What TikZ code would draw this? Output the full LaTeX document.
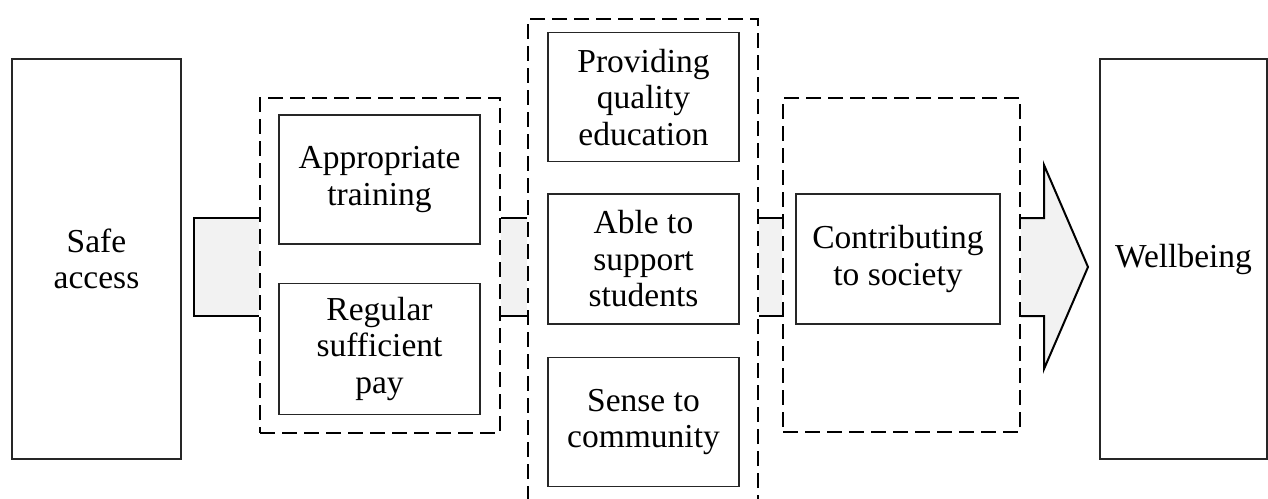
\documentclass[tikz,border=0pt]{standalone}
\usepackage{fontspec}
\setmainfont{Liberation Serif}
\usepackage{tikz}
\usetikzlibrary{positioning}
\usetikzlibrary{backgrounds}
\newcommand{\boxfont}{\fontsize{33.5}{36.5}\selectfont}
\tikzset{
  mybox/.style={
    draw=black!85,
    shape=rectangle,
    line width=1.3pt,
    align=center,
    inner sep=0pt,
    font=\boxfont
  },
  mygroup/.style={
    draw=black,
    shape=rectangle,
    line width=2pt,
    dash pattern=on 15pt off 7pt,
    inner sep=0pt,
  },
  myshaft/.style={
    fill=gray!10,
  },
  myedge/.style={
    draw=black,
    line width=2pt,
  },
}

\begin{document}
\begin{tikzpicture}[x=1pt, y=-1pt]
    \useasboundingbox (0,0) rectangle (1268,498);
    \coordinate (shafttop) at (0,218);
    \coordinate (shaftbot) at (0,316);
    \coordinate (headtop)  at (1044,165);
    \coordinate (headbot)  at (1044,369);
    \coordinate (tip)      at (1088,267);

    \node[mybox, minimum width=169pt, minimum height=400pt] (safe)      at (96.5,259)   {Safe\\access};
    \node[mybox, minimum width=167pt, minimum height=400pt] (wellbeing) at (1183.5,259) {Wellbeing};

    \node[mybox, minimum width=201pt, minimum height=129pt] (training)                     at (379.5,179.5) {Appropriate\\training};
    \node[mybox, minimum width=201pt, minimum height=131pt] (pay)   [below=38pt of training]               {Regular\\sufficient\\pay};

    \node[mybox, minimum width=191pt, minimum height=130pt] (support)                      at (643.5,259)   {Able to\\support\\students};
    \node[mybox, minimum width=191pt, minimum height=129pt] (quality)   [above=31pt of support]            {Providing\\quality\\education};
    \node[mybox, minimum width=191pt, minimum height=129pt] (community) [below=32pt of support]            {Sense to\\community};

    \node[mybox, minimum width=204pt, minimum height=130pt] (society)                      at (898,259)     {Contributing\\to society};

    \node[mygroup, minimum width=240pt, minimum height=335pt] (group1) at (380,265.5) {};
    \node[mygroup, minimum width=230pt, minimum height=481pt] (group2) at (643,259.5) {};
    \node[mygroup, minimum width=237pt, minimum height=334pt] (group3) at (901.5,265) {};

    \coordinate[right=12pt of safe.east] (start1);

    \begin{scope}[on background layer]
      \fill[myshaft] (start1 |- shafttop) rectangle (group1.west |- shaftbot);
      \draw[myedge] (group1.west |- shafttop) -- (start1 |- shafttop) -- (start1 |- shaftbot) -- (group1.west |- shaftbot);

      \fill[myshaft] (group1.east |- shafttop) rectangle (group2.west |- shaftbot);
      \draw[myedge] (group1.east |- shafttop) -- (group2.west |- shafttop);
      \draw[myedge] (group1.east |- shaftbot) -- (group2.west |- shaftbot);

      \fill[myshaft] (group2.east |- shafttop) rectangle (group3.west |- shaftbot);
      \draw[myedge] (group2.east |- shafttop) -- (group3.west |- shafttop);
      \draw[myedge] (group2.east |- shaftbot) -- (group3.west |- shaftbot);

      \fill[myshaft] (group3.east |- shafttop) -- (headtop |- shafttop) -- (headtop) -- (tip) -- (headbot) -- (headbot |- shaftbot) -- (group3.east |- shaftbot);
      \draw[myedge, line join=miter] (group3.east |- shafttop) -- (headtop |- shafttop) -- (headtop) -- (tip) -- (headbot) -- (headbot |- shaftbot) -- (group3.east |- shaftbot);
    \end{scope}
  \end{tikzpicture}
\end{document}
